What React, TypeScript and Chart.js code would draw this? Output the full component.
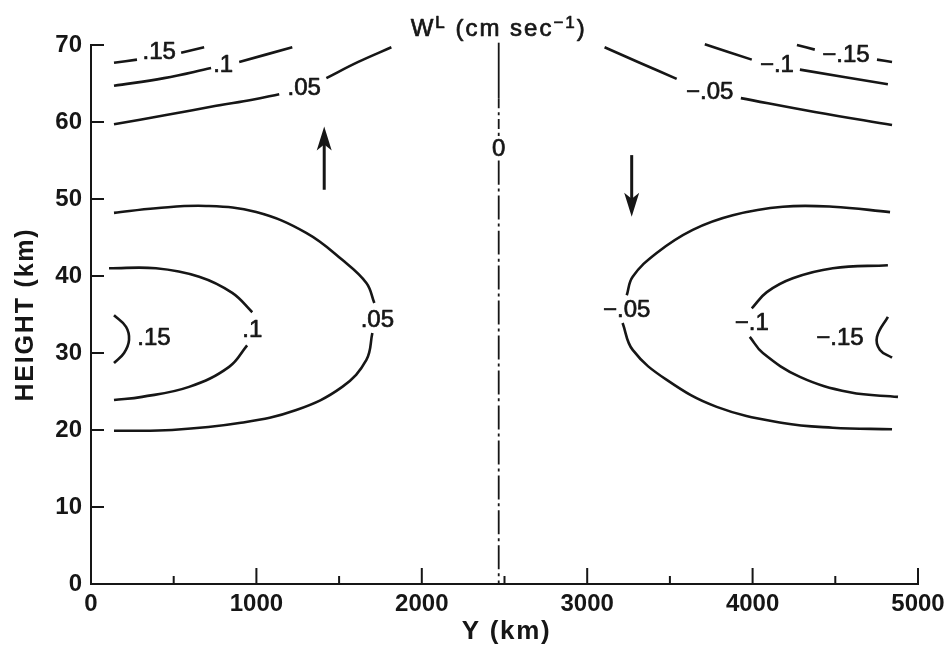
import React, { useEffect, useRef } from "react";
import { Chart, registerables } from "chart.js";

Chart.register(...registerables);

type P = [number, number];

const INK = "#161616";
const FAMILY = '"Liberation Sans", Arial, Helvetica, sans-serif';

// ---------- axis ticks ----------
const xTickValues = [0, 1000, 2000, 3000, 4000, 5000];
const xTickLabels = ["0", "1000", "2000", "3000", "4000", "5000"];
const xMinorValues = [500, 1500, 2500, 3500, 4500];
const yTickValues = [0, 10, 20, 30, 40, 50, 60, 70];
const yTickLabels = ["0", "10", "20", "30", "40", "50", "60", "70"];

// ---------- contour segments (Y km, height km) ----------
// upper-left, positive
const top015a: P[] = [[139, 67.7], [278, 68.1]];
const top015b: P[] = [[545, 69.0], [684, 69.7]];
const top010a: P[] = [[139, 64.7], [442, 65.7], [726, 67.0]];
const top010b: P[] = [[896, 67.8], [1217, 69.7]];
const top005a: P[] = [[139, 59.7], [454, 60.9], [757, 62.1], [975, 62.9], [1138, 63.6]];
const top005b: P[] = [[1423, 65.7], [1616, 67.8], [1816, 69.7]];
// upper-right, negative
const topN005a: P[] = [[3105, 69.7], [3317, 67.7], [3541, 65.6]];
const topN005b: P[] = [[3929, 63.1], [4376, 61.3], [4843, 59.6]];
const topN010a: P[] = [[3711, 70.1], [3995, 68.1]];
const topN010b: P[] = [[4286, 66.8], [4818, 64.9]];
const topN015a: P[] = [[4268, 70.0], [4376, 69.4]];
const topN015b: P[] = [[4752, 68.1], [4843, 67.8]];
// middle-left, positive
const mid005Upper: P[] = [[139, 48.2], [393, 48.8], [696, 49.1], [999, 48.3], [1301, 45.6], [1519, 42.1], [1665, 39.1], [1713, 36.5]];
const mid005Lower: P[] = [[1701, 32.6], [1665, 29.1], [1519, 25.6], [1241, 22.6], [896, 20.9], [490, 20.0], [139, 19.9]];
const mid010Upper: P[] = [[109, 41.0], [393, 41.0], [654, 39.9], [854, 37.8], [975, 35.3]];
const mid010Lower: P[] = [[944, 31.0], [835, 28.2], [593, 25.6], [309, 24.3], [139, 23.9]];
const mid015: P[] = [[139, 34.9], [212, 33.4], [230, 31.7], [200, 30.0], [139, 28.7]];
// middle-right, negative
const midN005Upper: P[] = [[4831, 48.3], [4485, 49.0], [4183, 49.0], [3880, 47.9], [3638, 46.0], [3420, 43.0], [3275, 39.9], [3239, 37.5]];
const midN005Lower: P[] = [[3214, 33.9], [3275, 30.4], [3481, 26.5], [3783, 23.0], [4183, 20.9], [4485, 20.3], [4843, 20.1]];
const midN010Upper: P[] = [[4818, 41.4], [4485, 41.0], [4243, 39.7], [4086, 37.9], [3995, 35.8]];
const midN010Lower: P[] = [[3983, 32.1], [4062, 30.0], [4286, 26.9], [4588, 24.9], [4879, 24.3]];
const midN015: P[] = [[4818, 34.7], [4752, 32.1], [4770, 30.4], [4843, 29.4]];

const contourSegments: P[][] = [
  top015a, top015b, top010a, top010b, top005a, top005b,
  topN005a, topN005b, topN010a, topN010b, topN015a, topN015b,
  mid005Upper, mid005Lower, mid010Upper, mid010Lower, mid015,
  midN005Upper, midN005Lower, midN010Upper, midN010Lower, midN015,
];

// zero contour
const zeroX = 2465;
const zeroSolid: P[] = [[zeroX, 70.3], [zeroX, 63.1]];
const zeroDashA: P[] = [[zeroX, 63.1], [zeroX, 57.9]];
const zeroDashB: P[] = [[zeroX, 55.0], [zeroX, 0]];

// contour labels
const labelTexts = [".15", ".1", ".05", "\u2212.05", "\u2212.1", "\u2212.15", ".05", ".1", ".15", "\u2212.05", "\u2212.1", "\u2212.15", "0"];
const labelX = [412, 799, 1289, 3741, 4147, 4564, 1731, 975, 381, 3239, 3995, 4528, zeroX];
const labelY = [69.0, 67.4, 64.4, 63.9, 67.4, 68.7, 34.3, 33.0, 31.9, 35.6, 33.9, 31.9, 56.4];

// flow arrows
const arrowX = [1410, 3269];
const arrowFrom = [51.2, 55.7];
const arrowTo = [59.4, 47.7];

// texts
const titleMain = "W";
const titleSup1 = "L";
const titleMid = " (cm sec";
const titleSup2 = "\u22121";
const titleEnd = ")";
const xTitle = "Y (km)";
const yTitle = "HEIGHT (km)";

const decorPlugin = {
  id: "decor",
  afterDraw(chart: any) {
    const { ctx, chartArea: a } = chart;
    const xs = chart.scales.x;
    const ys = chart.scales.y;
    ctx.save();
    ctx.strokeStyle = INK;
    ctx.fillStyle = INK;
    ctx.lineCap = "butt";

    // axes
    ctx.lineWidth = 2;
    ctx.beginPath();
    ctx.moveTo(a.left, a.top - 1);
    ctx.lineTo(a.left, a.bottom);
    ctx.lineTo(a.right + 1, a.bottom);
    ctx.stroke();

    // inward ticks
    ctx.beginPath();
    for (const v of yTickValues) {
      const py = ys.getPixelForValue(v);
      ctx.moveTo(a.left, py);
      ctx.lineTo(a.left + 13, py);
    }
    for (const v of xTickValues) {
      const px = xs.getPixelForValue(v);
      ctx.moveTo(px, a.bottom);
      ctx.lineTo(px, a.bottom - 16);
    }
    for (const v of xMinorValues) {
      const px = xs.getPixelForValue(v);
      ctx.moveTo(px, a.bottom);
      ctx.lineTo(px, a.bottom - 8);
    }
    ctx.stroke();

    // contour labels (slightly emboldened like the printed figure)
    ctx.font = `24px ${FAMILY}`;
    ctx.textAlign = "center";
    ctx.textBaseline = "middle";
    ctx.lineWidth = 0.7;
    ctx.lineJoin = "round";
    labelTexts.forEach((t, i) => {
      const px = xs.getPixelForValue(labelX[i]);
      const py = ys.getPixelForValue(labelY[i]);
      ctx.fillText(t, px, py);
      ctx.strokeText(t, px, py);
    });

    // arrows
    arrowX.forEach((xv, i) => {
      const px = xs.getPixelForValue(xv);
      const p0 = ys.getPixelForValue(arrowFrom[i]);
      const p1 = ys.getPixelForValue(arrowTo[i]);
      const dir = p1 < p0 ? -1 : 1;
      const headLen = 24;
      const headW = 7.5;
      ctx.lineWidth = 3;
      ctx.beginPath();
      ctx.moveTo(px, p0);
      ctx.lineTo(px, p1 - dir * headLen * 0.6);
      ctx.stroke();
      ctx.beginPath();
      ctx.moveTo(px, p1);
      ctx.lineTo(px - headW, p1 - dir * headLen);
      ctx.lineTo(px, p1 - dir * headLen * 0.75);
      ctx.lineTo(px + headW, p1 - dir * headLen);
      ctx.closePath();
      ctx.fill();
    });

    // title with superscripts
    const big = `24px ${FAMILY}`;
    const small = `17px ${FAMILY}`;
    (ctx as any).letterSpacing = "2px";
    const parts: [string, string, number][] = [
      [titleMain, big, 0],
      [titleSup1, small, -8],
      [titleMid, big, 0],
      [titleSup2, small, -8],
      [titleEnd, big, 0],
    ];
    let total = 0;
    const widths = parts.map(([t, f]) => {
      ctx.font = f;
      const w = ctx.measureText(t).width;
      total += w;
      return w;
    });
    let cx = xs.getPixelForValue(zeroX) - total / 2;
    const base = 36;
    ctx.textAlign = "left";
    ctx.textBaseline = "alphabetic";
    ctx.lineWidth = 0.7;
    parts.forEach(([t, f, dy], i) => {
      ctx.font = f;
      ctx.fillText(t, cx, base + dy);
      ctx.strokeText(t, cx, base + dy);
      cx += widths[i];
    });

    // axis titles
    ctx.textAlign = "center";
    ctx.textBaseline = "middle";
    ctx.font = `bold 26px ${FAMILY}`;
    (ctx as any).letterSpacing = "1.7px";
    ctx.fillText(xTitle, xs.getPixelForValue(2500) + 2, 632);
    ctx.font = `bold 25px ${FAMILY}`;
    (ctx as any).letterSpacing = "1.8px";
    ctx.translate(26, (a.top + a.bottom) / 2);
    ctx.rotate(-Math.PI / 2);
    ctx.fillText(yTitle, 0, 0);
    (ctx as any).letterSpacing = "0px";
    ctx.restore();
  },
};

export default function App() {
  const ref = useRef<HTMLCanvasElement | null>(null);

  useEffect(() => {
    if (!ref.current) return;
    const lineDs = (pts: P[], width: number, dash: number[] = []) => ({
      data: pts.map(([x, y]) => ({ x, y })),
      showLine: true,
      borderColor: INK,
      backgroundColor: INK,
      borderWidth: width,
      borderDash: dash,
      pointRadius: 0,
      pointHoverRadius: 0,
      tension: 0.4,
      fill: false,
      clip: false as any,
    });
    const datasets = [
      ...contourSegments.map((s) => lineDs(s, 2.6)),
      lineDs(zeroSolid, 1.8),
      lineDs(zeroDashA, 1.8, [10, 4, 3, 4]),
      lineDs(zeroDashB, 1.8, [24, 4, 3, 4]),
    ];
    const tickFont = { family: FAMILY, size: 24, weight: "bold" as const };
    const chart = new Chart(ref.current, {
      type: "scatter",
      data: { datasets },
      options: {
        animation: false,
        responsive: false,
        maintainAspectRatio: false,
        events: [],
        layout: { padding: { top: 45, right: 34, left: 0, bottom: 0 } },
        plugins: {
          legend: { display: false },
          tooltip: { enabled: false },
          title: { display: false },
        },
        scales: {
          x: {
            type: "linear",
            min: 0,
            max: 5000,
            grid: { display: false, drawTicks: false },
            border: { display: false },
            afterBuildTicks: (s: any) => {
              s.ticks = xTickValues.map((v) => ({ value: v }));
            },
            afterFit: (s: any) => {
              s.height = 65;
            },
            ticks: {
              autoSkip: false,
              maxRotation: 0,
              padding: 6,
              color: INK,
              font: tickFont,
              callback: (v: any) => {
                const i = xTickValues.indexOf(Number(v));
                return i >= 0 ? xTickLabels[i] : "";
              },
            },
          },
          y: {
            type: "linear",
            min: 0,
            max: 70,
            grid: { display: false, drawTicks: false },
            border: { display: false },
            afterBuildTicks: (s: any) => {
              s.ticks = yTickValues.map((v) => ({ value: v }));
            },
            afterFit: (s: any) => {
              s.width = 91;
            },
            ticks: {
              autoSkip: false,
              padding: 9,
              color: INK,
              font: tickFont,
              callback: (v: any) => {
                const i = yTickValues.indexOf(Number(v));
                return i >= 0 ? yTickLabels[i] : "";
              },
            },
          },
        },
      },
      plugins: [decorPlugin],
    });
    return () => chart.destroy();
  }, []);

  return (
    <div style={{ position: "absolute", left: 0, top: 0, width: 952, height: 649, background: "#fff" }}>
      <canvas ref={ref} width={952} height={649} style={{ display: "block" }} />
    </div>
  );
}
